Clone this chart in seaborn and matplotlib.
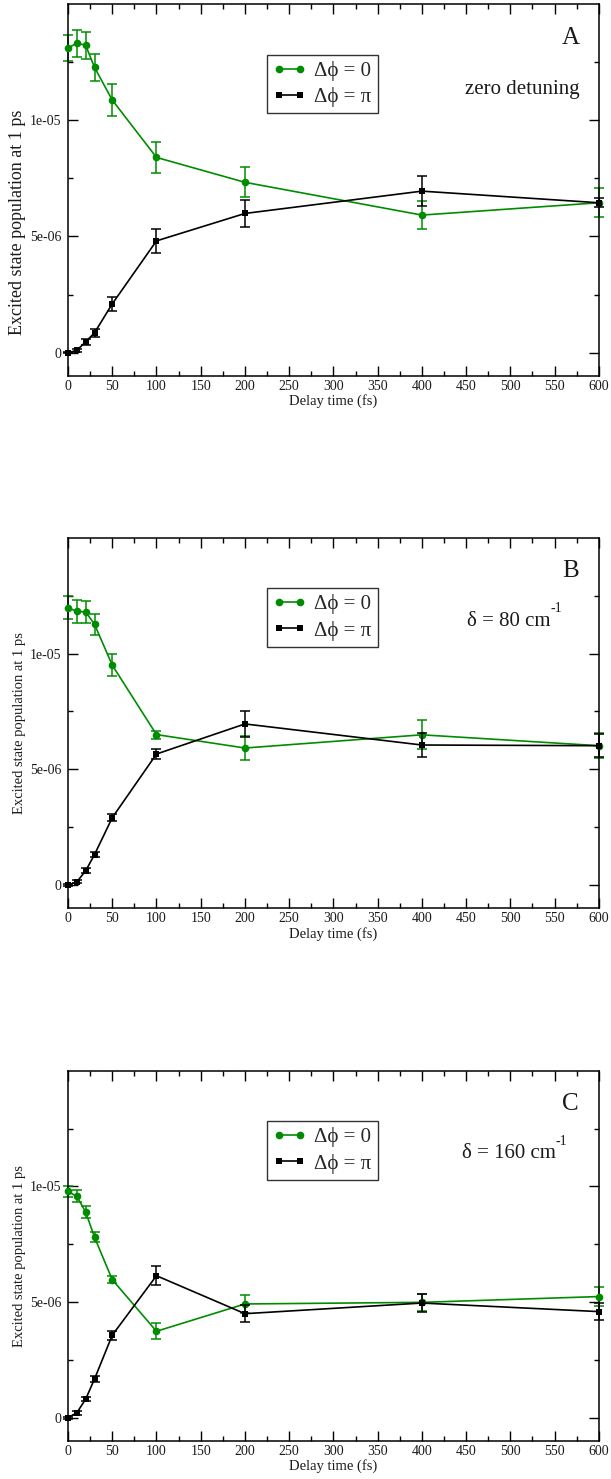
import numpy as np
import pandas as pd
import matplotlib
matplotlib.use("Agg")
import matplotlib.pyplot as plt
from matplotlib.ticker import FixedLocator, MultipleLocator, FixedFormatter
import seaborn as sns

# delay times (fs)
delay = [0, 10, 20, 30, 50, 100, 200, 400, 600]

# panel A: zero detuning
a_zero = [1.310e-5, 1.332e-5, 1.322e-5, 1.227e-5, 1.087e-5, 8.40e-6, 7.33e-6, 5.92e-6, 6.45e-6]
a_zero_err = [5.7e-7, 5.8e-7, 5.9e-7, 6.0e-7, 6.8e-7, 6.6e-7, 6.4e-7, 5.9e-7, 6.2e-7]
a_pi = [0.0, 1.0e-7, 4.7e-7, 8.6e-7, 2.10e-6, 4.81e-6, 5.99e-6, 6.95e-6, 6.45e-6]
a_pi_err = [3e-8, 8e-8, 1.4e-7, 1.7e-7, 2.9e-7, 5.3e-7, 6.0e-7, 6.5e-7, 2e-7]

# panel B: delta = 80 cm-1
b_zero = [1.198e-5, 1.182e-5, 1.180e-5, 1.126e-5, 9.50e-6, 6.50e-6, 5.92e-6, 6.49e-6, 6.02e-6]
b_zero_err = [5.0e-7, 5.0e-7, 4.8e-7, 4.6e-7, 4.6e-7, 1.7e-7, 5.3e-7, 6.2e-7, 5.3e-7]
b_pi = [0.0, 1.4e-7, 6.2e-7, 1.32e-6, 2.91e-6, 5.66e-6, 6.96e-6, 6.05e-6, 6.02e-6]
b_pi_err = [3e-8, 7e-8, 1.0e-7, 1.1e-7, 1.4e-7, 2.1e-7, 5.7e-7, 5.3e-7, 5.0e-7]

# panel C: delta = 160 cm-1
c_zero = [9.78e-6, 9.57e-6, 8.89e-6, 7.80e-6, 5.97e-6, 3.74e-6, 4.92e-6, 4.99e-6, 5.24e-6]
c_zero_err = [2.2e-7, 2.6e-7, 2.6e-7, 2.2e-7, 1.4e-7, 3.5e-7, 4.0e-7, 3.6e-7, 4.2e-7]
c_pi = [0.0, 2.2e-7, 8.1e-7, 1.68e-6, 3.57e-6, 6.14e-6, 4.50e-6, 4.96e-6, 4.59e-6]
c_pi_err = [3e-8, 8.6e-8, 1.0e-7, 1.2e-7, 1.9e-7, 4.2e-7, 3.6e-7, 3.9e-7, 3.6e-7]

panel_letters = ["A", "B", "C"]
panel_notes = ["zero detuning", "δ = 80 cm", "δ = 160 cm"]
note_sups = ["", "-1", "-1"]
legend_labels = ["Δϕ = 0", "Δϕ = π"]
y_tick_labels = ["0", "5e-06", "1e-05"]

GREEN = "#008c00"
TEXT = "#1a1a1a"

sns.set_theme(style="ticks")
plt.rcParams["font.family"] = ["Liberation Serif", "DejaVu Serif"]
plt.rcParams["axes.linewidth"] = 1.1
plt.rcParams["axes.edgecolor"] = "black"


def draw_panel(ax, zero, zero_err, pi, pi_err, letter, note, sup,
               ylabel_size, ylabel_y):
    df = pd.DataFrame({"delay": delay, "zero": zero, "pi": pi})
    ax.errorbar(delay, zero, yerr=zero_err, fmt="none", ecolor=GREEN,
                elinewidth=1.1, capsize=3.3, capthick=1.1, clip_on=False, zorder=2)
    sns.lineplot(data=df, x="delay", y="zero", ax=ax, color=GREEN, marker="o",
                 markersize=5.5, markeredgewidth=0, linewidth=1.2,
                 label=legend_labels[0], clip_on=False, zorder=3)
    ax.errorbar(delay, pi, yerr=pi_err, fmt="none", ecolor="black",
                elinewidth=1.1, capsize=3.3, capthick=1.1, clip_on=False, zorder=4)
    sns.lineplot(data=df, x="delay", y="pi", ax=ax, color="black", marker="s",
                 markersize=4.5, markeredgewidth=0, linewidth=1.2,
                 label=legend_labels[1], clip_on=False, zorder=5)

    ax.set_xlim(0, 600)
    ax.set_ylim(-1e-6, 1.5e-5)
    ax.xaxis.set_major_locator(MultipleLocator(50))
    ax.xaxis.set_minor_locator(MultipleLocator(25))
    ax.yaxis.set_major_locator(FixedLocator([0, 5e-6, 1e-5]))
    ax.yaxis.set_major_formatter(FixedFormatter(y_tick_labels))
    ax.yaxis.set_minor_locator(FixedLocator([2.5e-6, 7.5e-6, 1.25e-5]))
    ax.tick_params(which="both", direction="in", top=True, right=True,
                   labelsize=10, color="black", labelcolor=TEXT)
    ax.tick_params(which="major", length=7, width=1.0)
    ax.tick_params(which="minor", length=3.6, width=1.0)
    ax.tick_params(axis="x", pad=3)
    ax.tick_params(axis="y", pad=5)

    ax.set_xlabel("Delay time (fs)", fontsize=10.5, labelpad=1, color=TEXT)
    ax.set_ylabel("Excited state population at 1 ps", fontsize=ylabel_size,
                  color=TEXT)
    ax.yaxis.set_label_coords(-0.08, ylabel_y)

    leg = ax.legend(loc="upper left", bbox_to_anchor=(0.374, 0.864),
                    borderaxespad=0, numpoints=2, fontsize=15, frameon=True,
                    fancybox=False, handlelength=1.6, handletextpad=0.4,
                    borderpad=0.3, labelspacing=0.3)
    leg.get_frame().set_edgecolor("black")
    leg.get_frame().set_linewidth(1.0)

    ax.text(0.947, 0.909, letter, transform=ax.transAxes, fontsize=18,
            ha="center", va="center", color=TEXT)
    if sup:
        t = ax.text(0.83, 0.775, note, transform=ax.transAxes, fontsize=15,
                    ha="center", va="center", color=TEXT)
        ax.annotate(sup, xy=(1.0, 0.8), xycoords=t, fontsize=10,
                    ha="left", va="bottom", color=TEXT)
    else:
        ax.text(0.855, 0.771, note, transform=ax.transAxes, fontsize=15,
                ha="center", va="center", color=TEXT)


fig = plt.figure(figsize=(6.11, 14.79), dpi=100)
ax_a = fig.add_axes([0.1113, 0.7458, 0.8687, 0.2515])
ax_b = fig.add_axes([0.1113, 0.3859, 0.8687, 0.2505])
ax_c = fig.add_axes([0.1113, 0.0257, 0.8687, 0.2504])

draw_panel(ax_a, a_zero, a_zero_err, a_pi, a_pi_err, panel_letters[0],
           panel_notes[0], note_sups[0], 13, 0.414)
draw_panel(ax_b, b_zero, b_zero_err, b_pi, b_pi_err, panel_letters[1],
           panel_notes[1], note_sups[1], 10.5, 0.5)
draw_panel(ax_c, c_zero, c_zero_err, c_pi, c_pi_err, panel_letters[2],
           panel_notes[2], note_sups[2], 10.5, 0.5)

fig.savefig("out.png", dpi=100)
